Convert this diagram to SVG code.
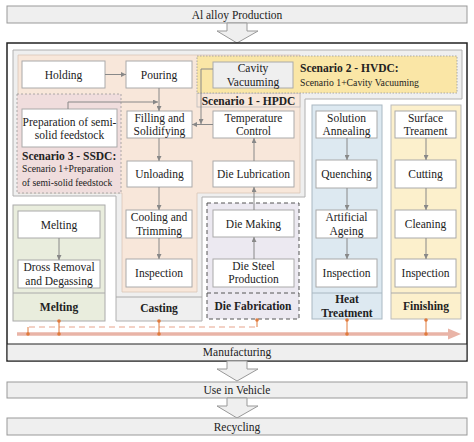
<svg xmlns="http://www.w3.org/2000/svg" width="474" height="442" viewBox="0 0 474 442">
<style>
text{font-family:"Liberation Serif","Times New Roman",serif;font-size:11.5px;fill:#222;text-anchor:middle}
.b{font-weight:bold}
.s{font-size:9.7px;text-anchor:start}
.bs{font-weight:bold;text-anchor:start}
.node{fill:#fff;stroke:#aaa;stroke-width:1}
.bar{fill:#efefef;stroke:#999;stroke-width:1}
.conn{fill:none;stroke:#888;stroke-width:1;marker-end:url(#ah)}
.stem{stroke:#e07a3c;stroke-width:1}
.dot{fill:#e07a3c}
.sep{stroke:#aaa;stroke-width:1}
</style>
<defs>
<marker id="ah" viewBox="0 0 6 6" refX="6" refY="3" markerWidth="5" markerHeight="5" markerUnits="userSpaceOnUse" orient="auto">
<path d="M0,0 L6,3 L0,6 z" fill="#888"/>
</marker>
</defs>
<rect width="474" height="442" fill="#fff"/>

<!-- Life cycle bars -->
<g id="al-alloy">
<rect class="bar" x="7" y="6" width="460" height="17"/>
<text x="237" y="19">Al alloy Production</text>
</g>
<g id="arrow-top"><path class="bar" d="M227,23 V31 H217 L237,43 L258,31 H247 V23 Z"/></g>

<g id="manufacturing-frame">
<rect x="7" y="43" width="460" height="318" fill="#fff" stroke="#222" stroke-width="1.5"/>
<rect x="7.75" y="344" width="458.5" height="16.25" fill="#efefef"/>
<line x1="7" y1="344" x2="467" y2="344" stroke="#222" stroke-width="1.2"/>
<text x="237" y="356">Manufacturing</text>
</g>

<!-- Casting region -->
<g id="casting">
<path d="M13,50 H462 V99 H305 V197 H202 V321 H116 V196 H13 Z" fill="#efefef" stroke="#b0b0b0" stroke-width="1" stroke-linejoin="round"/>
<line class="sep" x1="116" y1="297" x2="202" y2="297"/>
<text class="b" x="159" y="312">Casting</text>
</g>
<g id="scenario1">
<path d="M18,55 H300 V193 H197 V292 H122 V193 H18 Z" fill="#f8e7da" stroke="#d9c6b8" stroke-width="0.8"/>
<rect x="197" y="93" width="103" height="14" fill="#f8e7da" stroke="#bbb" stroke-width="0.8"/>
<text class="b" x="248.5" y="104.5">Scenario 1 - HPDC</text>
</g>
<g id="scenario2">
<rect x="197" y="56" width="260" height="37" fill="#fae6a6" stroke="#999" stroke-width="0.8" stroke-dasharray="1.5,1.5"/>
<text class="bs" x="300" y="72">Scenario 2 - HVDC:</text>
<text class="s" x="300" y="86">Scenario 1+Cavity Vacuuming</text>
</g>
<g id="scenario3">
<rect x="17" y="94" width="104" height="99" fill="#f0dddd" stroke="#999" stroke-width="0.8" stroke-dasharray="2,2"/>
<text class="bs" x="22" y="160">Scenario 3 - SSDC:</text>
<text class="s" x="22" y="172">Scenario 1+Preparation</text>
<text class="s" x="22" y="186">of semi-solid feedstock</text>
</g>

<g id="melting">
<rect x="13" y="205" width="92" height="116" fill="#e9eddd" stroke="#aaa"/>
<line class="sep" x1="13" y1="293" x2="105" y2="293"/>
<text class="b" x="59" y="311">Melting</text>
</g>
<g id="die-fabrication">
<rect x="207" y="203" width="92" height="116" fill="#ece9f1" stroke="#555" stroke-width="1" stroke-dasharray="4,3"/>
<line x1="207" y1="293" x2="299" y2="293" stroke="#555" stroke-dasharray="4,3"/>
<text class="b" x="253" y="310">Die Fabrication</text>
</g>
<g id="heat-treatment">
<rect x="312" y="105" width="70" height="214" fill="#dde9f1" stroke="#a9b8c2"/>
<line x1="312" y1="293" x2="382" y2="293" stroke="#a9b8c2"/>
<text class="b" x="347" y="303">Heat</text>
<text class="b" x="347" y="317">Treatment</text>
</g>
<g id="finishing">
<rect x="391" y="105" width="70" height="214" fill="#fcf0cc" stroke="#bbb"/>
<line class="sep" x1="391" y1="293" x2="461" y2="293"/>
<text class="b" x="426" y="310">Finishing</text>
</g>

<!-- Nodes -->
<g id="holding"><rect class="node" x="22" y="61" width="83" height="27"/><text x="63.5" y="78.5">Holding</text></g>
<g id="pouring"><rect class="node" x="126" y="61" width="66" height="27"/><text x="159" y="78.5">Pouring</text></g>
<g id="cavity-vacuuming"><rect x="213" y="62" width="80" height="26" fill="#efefef" stroke="#aaa"/><text x="253" y="72">Cavity</text><text x="253" y="86">Vacuuming</text></g>
<g id="preparation"><rect class="node" x="22" y="109" width="95" height="38"/><text x="69.5" y="126">Preparation of semi-</text><text x="69.5" y="139">solid feedstock</text></g>
<g id="filling"><rect class="node" x="127" y="111" width="65" height="27"/><text x="159.5" y="122">Filling and</text><text x="159.5" y="135">Solidifying</text></g>
<g id="temperature"><rect class="node" x="213" y="111" width="81" height="27"/><text x="253.5" y="122">Temperature</text><text x="253.5" y="135">Control</text></g>
<g id="unloading"><rect class="node" x="127" y="161" width="65" height="26"/><text x="159.5" y="178">Unloading</text></g>
<g id="die-lubrication"><rect class="node" x="213" y="161" width="81" height="26"/><text x="253.5" y="178">Die Lubrication</text></g>
<g id="cooling"><rect class="node" x="126" y="210" width="66" height="28"/><text x="159" y="221">Cooling and</text><text x="159" y="235">Trimming</text></g>
<g id="inspection-casting"><rect class="node" x="126" y="259" width="66" height="28"/><text x="159" y="277">Inspection</text></g>
<g id="melting-node"><rect class="node" x="18" y="211" width="82" height="27"/><text x="59" y="228.5">Melting</text></g>
<g id="dross"><rect class="node" x="18" y="260" width="82" height="28"/><text x="59" y="271">Dross Removal</text><text x="59" y="285">and Degassing</text></g>
<g id="die-making"><rect class="node" x="213" y="210" width="81" height="27"/><text x="253.5" y="228">Die Making</text></g>
<g id="die-steel"><rect class="node" x="213" y="259" width="81" height="28"/><text x="253.5" y="270">Die Steel</text><text x="253.5" y="283">Production</text></g>
<g id="solution-annealing"><rect class="node" x="316" y="111" width="61" height="27"/><text x="346.5" y="122">Solution</text><text x="346.5" y="135">Annealing</text></g>
<g id="quenching"><rect class="node" x="316" y="160" width="61" height="28"/><text x="346.5" y="178">Quenching</text></g>
<g id="artificial-ageing"><rect class="node" x="316" y="210" width="61" height="28"/><text x="346.5" y="221">Artificial</text><text x="346.5" y="235">Ageing</text></g>
<g id="inspection-heat"><rect class="node" x="316" y="259" width="61" height="28"/><text x="346.5" y="277">Inspection</text></g>
<g id="surface-treament"><rect class="node" x="395" y="111" width="61" height="27"/><text x="425.5" y="122">Surface</text><text x="425.5" y="135">Treament</text></g>
<g id="cutting"><rect class="node" x="395" y="160" width="61" height="28"/><text x="425.5" y="178">Cutting</text></g>
<g id="cleaning"><rect class="node" x="395" y="210" width="61" height="28"/><text x="425.5" y="228">Cleaning</text></g>
<g id="inspection-finishing"><rect class="node" x="395" y="259" width="61" height="28"/><text x="425.5" y="277">Inspection</text></g>

<!-- Connectors -->
<g id="connectors">
<path class="conn" d="M105,74.5 H126"/>
<path class="conn" d="M159,88 V111"/>
<path class="conn" d="M68,109 V102 H158"/>
<path class="conn" d="M213,124.5 H192"/>
<path class="conn" d="M213,69 H201 V124"/>
<path class="conn" d="M159,138 V161"/>
<path class="conn" d="M159,187 V210"/>
<path class="conn" d="M159,238 V259"/>
<path class="conn" d="M254,161 V138"/>
<path class="conn" d="M254,210 V187"/>
<path class="conn" d="M254,259 V237"/>
<path class="conn" d="M59,238 V260"/>
<path class="conn" d="M347,138 V160"/>
<path class="conn" d="M347,188 V210"/>
<path class="conn" d="M347,238 V259"/>
<path class="conn" d="M426,138 V160"/>
<path class="conn" d="M426,188 V210"/>
<path class="conn" d="M426,238 V259"/>
</g>

<!-- Timeline -->
<g id="timeline">
<line x1="17" y1="334" x2="450" y2="334" stroke="#e9b4a7" stroke-width="3.5"/>
<polygon points="448,328.5 461,334 448,339.5" fill="#e9b4a7"/>
<line x1="29" y1="327" x2="257" y2="327" stroke="#e8a48c" stroke-width="1.2" stroke-dasharray="6,4"/>
<line class="stem" x1="59" y1="321" x2="59" y2="334"/>
<line class="stem" x1="159" y1="321" x2="159" y2="334"/>
<line class="stem" x1="257" y1="319" x2="257" y2="327"/>
<line class="stem" x1="28" y1="327" x2="28" y2="334"/>
<line class="stem" x1="347" y1="319" x2="347" y2="334"/>
<line class="stem" x1="426" y1="319" x2="426" y2="334"/>
<circle class="dot" cx="59" cy="321" r="1.8"/><circle class="dot" cx="59" cy="334" r="1.8"/>
<circle class="dot" cx="159" cy="321" r="1.8"/><circle class="dot" cx="159" cy="334" r="1.8"/>
<circle class="dot" cx="257" cy="320" r="1.8"/><circle class="dot" cx="28" cy="334" r="1.8"/>
<circle class="dot" cx="347" cy="320" r="1.8"/><circle class="dot" cx="347" cy="334" r="1.8"/>
<circle class="dot" cx="426" cy="320" r="1.8"/><circle class="dot" cx="426" cy="334" r="1.8"/>
</g>

<g id="arrow-mid"><path class="bar" d="M227,361 V369 H217 L237,381 L258,369 H247 V361 Z"/></g>
<g id="use-in-vehicle">
<rect class="bar" x="7" y="382" width="460" height="16"/>
<text x="237" y="394">Use in Vehicle</text>
</g>
<g id="arrow-bottom"><path class="bar" d="M227,398 V406 H217 L237,418 L258,406 H247 V398 Z"/></g>
<g id="recycling">
<rect class="bar" x="7" y="418" width="460" height="17"/>
<text x="237" y="431">Recycling</text>
</g>
</svg>
